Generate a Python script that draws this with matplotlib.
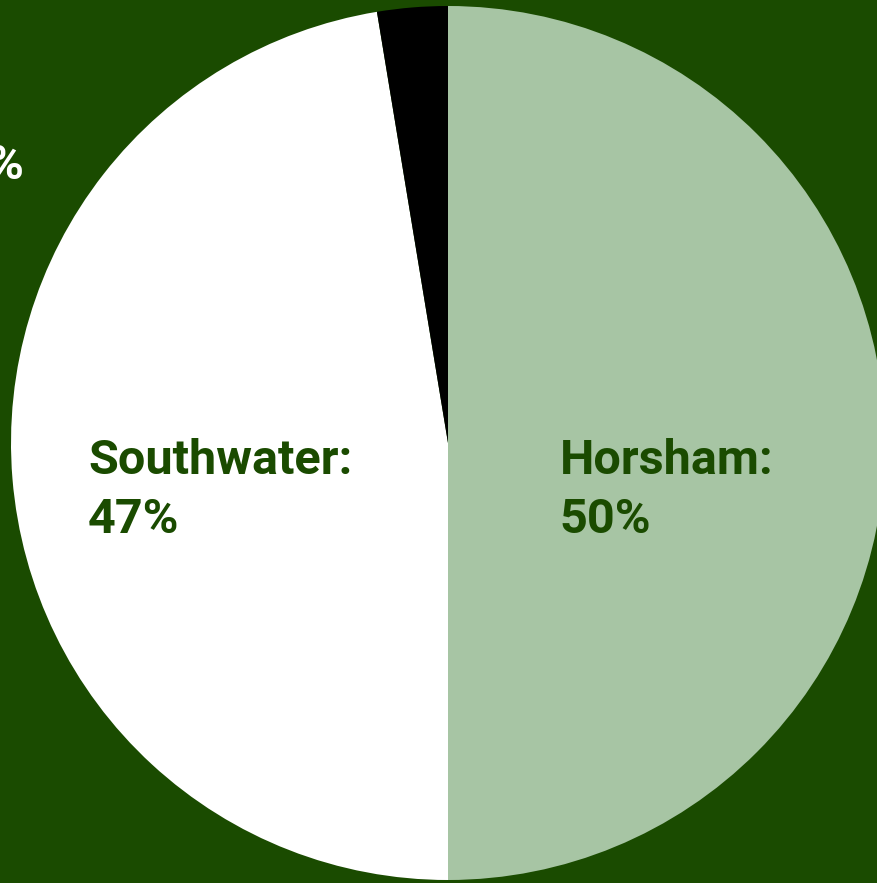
import matplotlib.pyplot as plt

labels = ["Horsham", "Southwater", "Other"]
shares = [50.0, 47.4, 2.6]
colors = ["#a7c5a4", "#ffffff", "#000000"]
bg = "#1a4b00"
dark = "#1a4b00"

fig = plt.figure(figsize=(8.78, 8.83), dpi=100, facecolor=bg)
# pie axes slightly wider than the figure so the right edge is clipped
ax = fig.add_axes([11 / 878, 3 / 883, 874 / 878, 874 / 883])
ax.set_facecolor(bg)
ax.pie(shares, colors=colors, startangle=90, counterclock=False,
       radius=1, wedgeprops=dict(linewidth=0))
ax.set_xlim(-1, 1)
ax.set_ylim(-1, 1)
ax.set_aspect("equal")
ax.axis("off")

font = dict(family=["Roboto", "DejaVu Sans"], fontweight="bold", fontsize=35)
ax.text(0.256, -0.206, f"{labels[0]}:\n{shares[0]:.0f}%", color=dark,
        ha="left", va="baseline", linespacing=1.36, **font)
ax.text(-0.824, -0.206, f"{labels[1]}:\n{shares[1]:.0f}%", color=dark,
        ha="left", va="baseline", linespacing=1.36, **font)
# label for the thin slice sits outside the pie, mostly off the canvas
ax.text(-0.97, 0.605, f"{labels[2]}: {shares[2]:.0f}%", color="white",
        ha="right", va="baseline", **font)

fig.savefig("out.png", dpi=100, facecolor=bg)
